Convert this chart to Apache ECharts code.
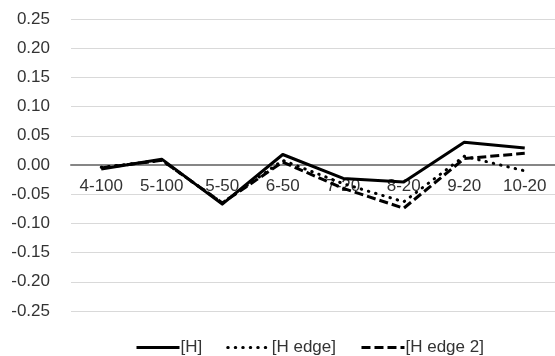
<!DOCTYPE html>
<html>
<head>
<meta charset="utf-8">
<script src="https://cdn.jsdelivr.net/npm/echarts@6/dist/echarts.min.js"></script>
<style>
  html, body { margin: 0; padding: 0; background: #fff; }
  #chart { width: 555px; height: 356px; }
</style>
</head>
<body>
<div id="chart"></div>
<script>
// Window configurations along the horizontal axis
const categories = ['4-100', '5-100', '5-50', '6-50', '7-20', '8-20', '9-20', '10-20'];

// Series values
const seriesH      = [-0.007, 0.010, -0.067, 0.018, -0.023, -0.029, 0.039, 0.029];
const seriesHEdge  = [-0.004, 0.008, -0.065, 0.008, -0.032, -0.063, 0.015, -0.010];
const seriesHEdge2 = [-0.005, 0.008, -0.065, 0.005, -0.040, -0.074, 0.011, 0.020];

const seriesNames = ['[H]', '[H edge]', '[H edge 2]'];

const FONT = '"Liberation Sans", "DejaVu Sans", sans-serif';
const TEXT = '#333';

const GRID_TOP = 19, GRID_BOTTOM = 45, HEIGHT = 356;
// the category axis sits on the zero line, halfway up the symmetric value range
const zeroOffset = -(HEIGHT - GRID_TOP - GRID_BOTTOM) / 2;

const chart = echarts.init(document.getElementById('chart'), null, { renderer: 'canvas' });

function lineSeries(name, data, type, cap) {
  return {
    name: name,
    type: 'line',
    data: data,
    symbol: 'none',
    showSymbol: false,
    animation: false,
    lineStyle: { color: '#000', width: 3, type: type, cap: cap, join: 'round' },
    itemStyle: { color: '#000' }
  };
}

chart.setOption({
  backgroundColor: '#fff',
  animation: false,
  grid: { left: 71, top: GRID_TOP, width: 491, bottom: GRID_BOTTOM, containLabel: false },
  legend: {
    bottom: -5,
    left: 130,
    itemWidth: 43,
    itemHeight: 14,
    itemGap: 24,
    itemStyle: { color: 'transparent', borderWidth: 0 },
    lineStyle: { width: 3 },
    textStyle: { fontFamily: FONT, fontSize: 17, color: TEXT, padding: [0, 0, 0, -4] },
    data: seriesNames
  },
  xAxis: {
    type: 'category',
    data: categories,
    boundaryGap: true,
    offset: zeroOffset,
    axisLine: { show: true, onZero: false, lineStyle: { color: '#868686', width: 2 } },
    axisTick: { show: false },
    axisLabel: { fontFamily: FONT, fontSize: 17, color: TEXT, margin: 13, interval: 0 },
    splitLine: { show: false }
  },
  yAxis: {
    type: 'value',
    min: -0.25,
    max: 0.25,
    interval: 0.05,
    axisLine: { show: false },
    axisTick: { show: false },
    axisLabel: {
      fontFamily: FONT, fontSize: 17, color: TEXT, margin: 21,
      formatter: v => v.toFixed(2)
    },
    splitLine: { show: true, lineStyle: { color: '#d9d9d9', width: 1 } }
  },
  series: [
    lineSeries(seriesNames[0], seriesH, 'solid', 'butt'),
    lineSeries(seriesNames[1], seriesHEdge, [0.5, 7], 'round'),
    lineSeries(seriesNames[2], seriesHEdge2, [9, 4], 'butt')
  ]
});
</script>
</body>
</html>
